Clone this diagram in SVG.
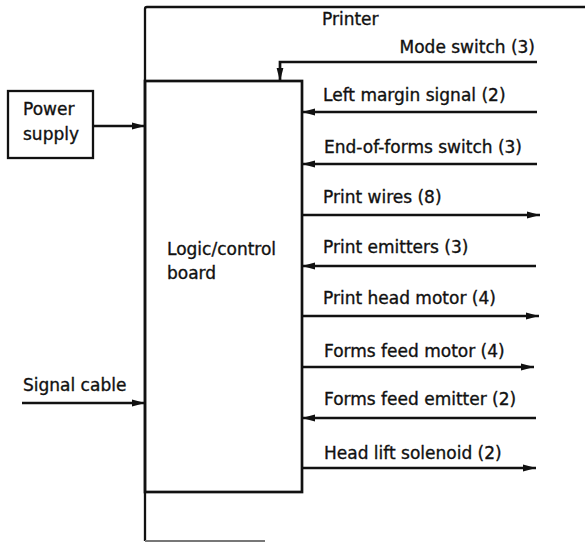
<svg xmlns="http://www.w3.org/2000/svg" width="585" height="542" viewBox="0 0 585 542">
<style>
text{font-family:"DejaVu Sans","Liberation Sans",sans-serif;font-size:17px;fill:#111;stroke:#111;stroke-width:0.35}
.ln{stroke:#111;stroke-width:2.7;fill:none}
.fr{stroke:#111;stroke-width:2.3;fill:none}
</style>
<defs>
<marker id="ah" viewBox="0 0 13 8" refX="13" refY="4" markerWidth="13" markerHeight="8" markerUnits="userSpaceOnUse" orient="auto">
<path d="M0,0.6 L13,4 L0,7.4 Z" fill="#111"/>
</marker>
</defs>
<g id="printer">
<path class="fr" d="M145,541 L145,9 Q145,7 147,7 L585,7"/>
<path d="M145,541 L265,541" stroke="#777" stroke-width="2" fill="none"/>
<text x="322" y="25">Printer</text>
</g>
<g id="logic-board">
<rect class="ln" x="145" y="81" width="157" height="411"/>
<text x="167" y="255">Logic/control</text>
<text x="167" y="279">board</text>
</g>
<g id="power-supply">
<rect class="fr" x="8" y="91" width="85" height="67"/>
<text x="23" y="115">Power</text>
<text x="23" y="140">supply</text>
</g>
<g id="signal-cable">
<text x="23" y="391">Signal cable</text>
</g>
<g id="labels">
<text x="535" y="53" text-anchor="end">Mode switch (3)</text>
<text x="323" y="101">Left margin signal (2)</text>
<text x="324" y="153">End-of-forms switch (3)</text>
<text x="323" y="203">Print wires (8)</text>
<text x="323" y="253">Print emitters (3)</text>
<text x="323" y="304">Print head motor (4)</text>
<text x="324" y="357">Forms feed motor (4)</text>
<text x="324" y="405">Forms feed emitter (2)</text>
<text x="324" y="459">Head lift solenoid (2)</text>
</g>
<g id="connectors">
<path class="ln" d="M93,126 L145,126" marker-end="url(#ah)"/>
<path class="ln" d="M22,403 L145,403" marker-end="url(#ah)"/>
<path class="ln" d="M537,62 L280,62 L280,81" marker-end="url(#ah)"/>
<path class="ln" d="M537,112 L302,112" marker-end="url(#ah)"/>
<path class="ln" d="M537,164 L302,164" marker-end="url(#ah)"/>
<path class="ln" d="M302,215 L540,215" marker-end="url(#ah)"/>
<path class="ln" d="M536,266 L302,266" marker-end="url(#ah)"/>
<path class="ln" d="M302,316 L539,316" marker-end="url(#ah)"/>
<path class="ln" d="M302,367 L534,367" marker-end="url(#ah)"/>
<path class="ln" d="M536,418 L302,418" marker-end="url(#ah)"/>
<path class="ln" d="M302,468 L536,468" marker-end="url(#ah)"/>
</g>
</svg>
